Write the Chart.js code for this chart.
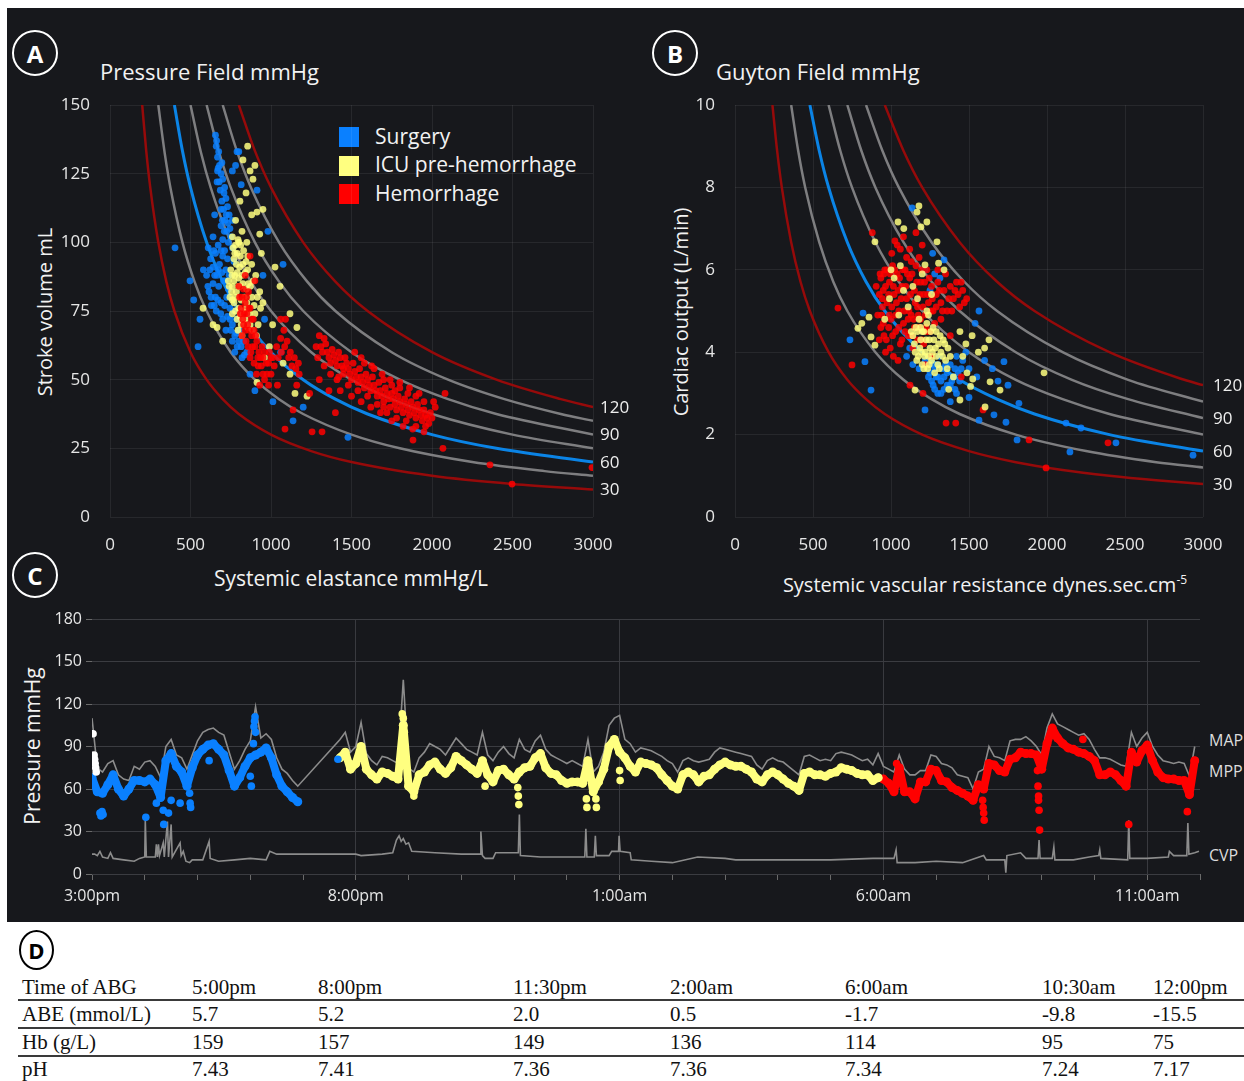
<!DOCTYPE html>
<html>
<head>
<meta charset="utf-8">
<script src="https://cdn.jsdelivr.net/npm/chart.js@4.4.1/dist/chart.umd.min.js"></script>
<style>
  body { margin: 0; width: 1244px; height: 1081px; background: #ffffff; position: relative; overflow: hidden; font-family: "Open Sans", sans-serif; }
  .abs { position: absolute; }
  #dark { left: 7px; top: 8px; width: 1237px; height: 914px; background: #17181c; }
  canvas { position: absolute; }
  .txt { position: absolute; color: #f2f2f2; white-space: nowrap; }
  .ctr { transform: translate(-50%, -50%); }
  .rot { transform: translate(-50%, -50%) rotate(-90deg); }
  .badge { position: absolute; border: 2px solid #ffffff; border-radius: 50%; color: #ffffff; font-weight: bold; font-size: 24px; display: flex; align-items: center; justify-content: center; box-sizing: border-box; }
  .swatch { position: absolute; width: 20px; height: 20px; }
  .cell { position: absolute; font-family: "Liberation Serif", "Times New Roman", serif; font-size: 21px; color: #111; transform: translateY(-50%); white-space: nowrap; }
  .rule { position: absolute; left: 18px; width: 1226px; height: 2px; background: #3a3a3a; }
</style>
</head>
<body>
<div id="dark" class="abs"></div>

<div class="badge" style="left:12px;top:30px;width:46px;height:46px;">A</div>
<div class="badge" style="left:652px;top:30px;width:46px;height:46px;">B</div>
<div class="badge" style="left:12px;top:552px;width:46px;height:46px;">C</div>
<div class="badge" style="left:19px;top:930px;width:35px;height:40px;border-color:#000;color:#000;font-size:22px;">D</div>

<div class="txt" style="left:100px;top:56px;font-size:22px;">Pressure Field mmHg</div>
<div class="txt" style="left:716px;top:56px;font-size:22px;">Guyton Field mmHg</div>

<div class="txt ctr" style="left:351px;top:578px;font-size:21px;">Systemic elastance mmHg/L</div>
<div class="txt rot" style="left:44px;top:312px;font-size:20px;">Stroke volume mL</div>
<div class="txt ctr" style="left:985px;top:584px;font-size:20px;">Systemic vascular resistance dynes.sec.cm<sup style="font-size:12px;">-5</sup></div>
<div class="txt rot" style="left:680px;top:312px;font-size:20px;">Cardiac output (L/min)</div>
<div class="txt rot" style="left:32px;top:746px;font-size:21px;">Pressure mmHg</div>

<div class="swatch" style="left:339px;top:127px;background:#0a80ff;"></div>
<div class="swatch" style="left:339px;top:156px;background:#ffff80;"></div>
<div class="swatch" style="left:339px;top:184px;background:#ff0000;"></div>
<div class="txt" style="left:375px;top:122px;font-size:21px;">Surgery</div>
<div class="txt" style="left:375px;top:150px;font-size:21px;">ICU pre-hemorrhage</div>
<div class="txt" style="left:375px;top:179px;font-size:21px;">Hemorrhage</div>

<div class="txt" style="left:1209px;top:729px;font-size:16px;color:#dddddd;">MAP</div>
<div class="txt" style="left:1209px;top:760px;font-size:16px;color:#dddddd;">MPP</div>
<div class="txt" style="left:1209px;top:844px;font-size:16px;color:#dddddd;">CVP</div>

<canvas id="chartA" width="640" height="480" style="left:0px;top:90px;"></canvas>
<canvas id="chartB" width="604" height="480" style="left:640px;top:90px;"></canvas>
<canvas id="chartC" width="1244" height="320" style="left:0px;top:600px;"></canvas>

<div id="table"></div>

<script>
// ---- Panel A: iso-pressure curves, [elastance, stroke volume]
const isoA30 = [[200,150],[225,133.3],[250,120],[300,100],[350,85.7],[400,75],[500,60],[600,50],[700,42.9],[800,37.5],[1000,30],[1250,24],[1500,20],[2000,15],[2500,12],[3000,10]];
const isoA45 = [[300,150],[340,132.4],[375,120],[450,100],[525,85.7],[600,75],[750,60],[900,50],[1050,42.9],[1200,37.5],[1500,30],[1800,25],[2250,20],[2700,16.7],[3000,15]];
const isoA60 = [[400,150],[450,133.3],[500,120],[600,100],[700,85.7],[800,75],[1000,60],[1200,50],[1400,42.9],[1600,37.5],[2000,30],[2400,25],[3000,20]];
const isoA75 = [[500,150],[565,132.7],[625,120],[750,100],[875,85.7],[1000,75],[1250,60],[1500,50],[1750,42.9],[2000,37.5],[2500,30],[3000,25]];
const isoA90 = [[600,150],[675,133.3],[750,120],[900,100],[1050,85.7],[1200,75],[1500,60],[1800,50],[2100,42.9],[2400,37.5],[3000,30]];
const isoA105 = [[700,150],[790,132.9],[875,120],[1050,100],[1225,85.7],[1400,75],[1750,60],[2100,50],[2450,42.9],[2800,37.5],[3000,35]];
const isoA120 = [[800,150],[900,133.3],[1000,120],[1200,100],[1400,85.7],[1600,75],[2000,60],[2400,50],[2800,42.9],[3000,40]];

// ---- Panel A scatter, [elastance, stroke volume]
const surgeryA = [[655,139],[660,135],[668,131],[672,127],[680,128],[690,125],[665,122],[700,123],[685,119],[712,120],[695,115],[720,116],[705,112],[730,113],[715,108],[740,110],[690,106],[725,104],[745,105],[760,108],[700,101],[735,100],[650,110],[640,102],[780,128],[800,133],[815,121],[760,126],
  [610,98],[625,94],[640,91],[655,96],[665,88],[680,92],[700,95],[720,90],[640,85],[655,80],[675,84],[690,78],[705,86],[615,82],[600,88],[630,77],[660,75],[700,72],[725,80],[745,76],[760,70],[775,66],[790,62],[805,68],[830,64],[850,60],[820,58],[785,72],[740,88],[770,93],[760,98],
  [662,137],[675,133],[668,126],[695,129],[678,122],[708,118],[690,112],[722,110],[698,108],[732,107],[710,104],[750,102],[645,97],[672,99],[690,97],[712,97],[730,94],[620,90],[650,88],[672,90],[695,89],[715,86],[735,83],[608,84],[628,80],[648,77],[670,79],[688,74],[712,77],[730,73],[750,68],[768,75],[785,67],[800,64],[815,62],[835,59],[760,64],[775,60],[745,72],[720,68],
  [404,98],[497,86],[547,62],[559,72],[580,90],[520,79],[1012,42],[1137,35],[1478,29],[1075,92],[789,133],[913,119],[981,104],[950,88],[870,52],[900,46],[1060,60],[960,72],[1200,40]];
const icuA = [[760,102],[780,99],[800,100],[790,96],[770,94],[810,95],[825,92],[750,90],[775,88],[800,87],[840,89],[760,84],[785,82],[810,84],[835,80],[860,85],[745,80],[770,78],[800,76],[825,75],[850,78],[880,80],[790,72],[815,70],[840,72],[870,70],[900,74],[920,70],[760,74],[735,86],[855,95],[880,92],[905,88],[930,82],[950,78],[820,104],[850,100],
  [765,98],[795,101],[812,99],[775,96],[830,97],[785,92],[805,91],[845,93],[758,88],[790,89],[820,88],[855,90],[770,86],[798,84],[825,85],[848,83],[872,84],[755,82],[780,80],[815,79],[845,76],[865,74],[895,77],[780,75],[808,73],[830,71],[855,69],[885,68],[910,66],[795,68],[820,66],[760,79],[740,84],[890,86],[915,80],[935,76],
  [826,130],[870,126],[888,123],[807,115],[913,111],[845,118],[880,110],[930,103],[780,108],[855,135],[900,128],[950,112],[940,96],[1025,91],[1056,84],[1118,74],[1161,69],[578,76],[665,69],[913,49],[1075,56],[1149,45],[1224,44],[1118,52],[990,62],[1010,70],[960,58],[700,64],[640,70]];
const hemorrhageA = [[800,84],[820,80],[840,78],[860,82],[810,74],[830,70],[850,74],[870,76],[890,72],[820,66],[845,64],[865,68],[885,62],[905,66],[925,60],[950,58],[870,58],[895,56],[920,55],[945,62],[970,56],[990,60],[1010,58],[1035,62],[1060,65],[1080,68],[1100,64],[1120,60],[1145,58],[1170,56],[1060,72],[1090,72],[1000,52],[960,50],[930,48],[1040,48],[840,88],[870,95],[900,86],
  [805,80],[815,76],[828,83],[835,74],[848,80],[855,70],[862,76],[878,72],[880,66],[895,68],[900,62],[912,64],[918,58],[935,58],[940,55],[960,60],[975,52],[985,56],[1000,58],[1020,55],[1045,58],[1065,60],[1085,62],[1110,58],[1130,55],[1155,54],[1175,52],[825,72],[840,68],[858,62],[875,60],[910,52],[950,52],[985,48],
  [1280,62],[1300,66],[1320,60],[1340,63],[1360,58],[1380,61],[1400,57],[1420,60],[1440,55],[1460,58],[1330,55],[1370,52],[1410,50],[1450,52],[1480,54],[1500,50],[1520,53],[1540,49],[1560,51],[1580,47],[1600,50],[1620,46],[1640,48],[1660,44],[1680,46],[1700,42],[1720,45],[1740,40],[1760,43],[1780,39],[1800,42],[1820,38],[1840,41],[1860,37],[1880,40],[1900,36],[1920,39],[1940,35],[1960,37],[1980,34],[2000,36],[1700,50],[1750,48],[1800,47],[1850,45],[1620,40],[1680,38],[1750,35],[1820,33],[1880,32],[1950,31],[1560,42],[1500,44],[1430,46],[1360,46],[1300,50],[1580,56],[1520,60],[1640,54],[1900,44],[1950,42],[2020,40],
  [1290,58],[1310,62],[1330,65],[1350,60],[1370,56],[1390,59],[1410,55],[1430,58],[1450,54],[1470,56],[1490,52],[1510,56],[1530,51],[1550,54],[1570,49],[1590,52],[1610,48],[1630,51],[1650,46],[1670,49],[1690,44],[1710,47],[1730,43],[1750,45],[1770,41],[1790,44],[1810,40],[1830,43],[1850,39],[1870,42],[1890,38],[1910,41],[1930,37],[1950,39],[1970,36],[1990,38],[1720,38],[1780,36],[1840,35],[1900,33],[1960,33],[1660,41],[1600,44],[1540,46],[1480,48],[1420,51],[1740,50],[1800,49],[1860,47],[1920,45],[2010,42],[1690,52],[1625,55],[1560,58],[1700,40],[1770,46],
  [2081,45],[2360,19],[2497,12],[1087,32],[1255,31],[1317,31],[1137,39],[1882,28],[2068,25],[2994,18],[1240,45],[1400,38],[1160,48]];

// ---- Panel B: iso-pressure curves, [SVR, cardiac output]
const isoB30 = [[240,10],[270,8.89],[300,8],[360,6.67],[420,5.71],[480,5],[600,4],[720,3.33],[840,2.86],[960,2.5],[1200,2],[1500,1.6],[1800,1.33],[2100,1.14],[2400,1],[2700,0.89],[3000,0.8]];
const isoB45 = [[360,10],[405,8.89],[450,8],[540,6.67],[630,5.71],[720,5],[900,4],[1080,3.33],[1260,2.86],[1440,2.5],[1800,2],[2250,1.6],[2700,1.33],[3000,1.2]];
const isoB60 = [[480,10],[540,8.89],[600,8],[720,6.67],[840,5.71],[960,5],[1200,4],[1440,3.33],[1680,2.86],[1920,2.5],[2400,2],[3000,1.6]];
const isoB75 = [[600,10],[675,8.89],[750,8],[900,6.67],[1050,5.71],[1200,5],[1500,4],[1800,3.33],[2100,2.86],[2400,2.5],[3000,2]];
const isoB90 = [[720,10],[810,8.89],[900,8],[1080,6.67],[1260,5.71],[1440,5],[1800,4],[2160,3.33],[2520,2.86],[3000,2.4]];
const isoB105 = [[840,10],[945,8.89],[1050,8],[1260,6.67],[1470,5.71],[1680,5],[2100,4],[2520,3.33],[3000,2.8]];
const isoB120 = [[960,10],[1080,8.89],[1200,8],[1440,6.67],[1680,5.71],[1920,5],[2400,4],[2880,3.33],[3000,3.2]];

// ---- Panel B scatter, [SVR, cardiac output]
const surgeryB = [[1250,3.5],[1270,3.2],[1290,3.4],[1300,3.0],[1320,3.3],[1340,3.1],[1360,3.5],[1380,3.2],[1400,3.4],[1420,3.0],[1440,3.3],[1280,3.6],[1350,3.7],[1310,3.9],
  [1260,3.3],[1280,3.1],[1300,3.4],[1320,3.0],[1340,3.4],[1360,3.2],[1390,3.3],[1410,3.1],[1430,3.5],[1265,3.7],[1330,3.6],[1450,3.6],[1240,3.4],[1300,3.7],[1410,3.6],
  [1100,3.9],[1140,3.7],[1180,3.6],[1220,3.8],[1460,3.8],[1500,3.6],[1480,4.0],[1120,4.1],[1420,3.9],[1380,3.7],
  [1135,7.5],[1218,6.0],[1267,6.4],[1340,6.24],[1314,5.8],[1250,5.5],[1280,5.9],
  [1564,5.0],[1539,4.7],[1686,3.3],[1724,3.77],[1820,2.76],[2122,2.28],[2218,2.16],[2147,1.58],[2442,1.8],[2936,1.5],[1808,1.87],[1737,2.3],[1564,2.35],[1660,2.48],[1218,2.6],[872,3.08],[737,4.3],[833,3.77],[821,4.95],[1600,3.8],[1650,3.6],[1550,3.4],[1500,2.9],[1380,2.8],[1750,3.2]];
const icuB = [[1130,4.5],[1150,4.2],[1160,4.6],[1175,3.9],[1190,4.3],[1200,3.7],[1210,4.5],[1220,4.0],[1235,3.6],[1245,4.3],[1260,3.8],[1270,4.6],[1285,4.1],[1300,3.7],[1315,4.4],[1330,3.9],[1345,4.2],[1360,3.6],[1180,4.8],[1240,4.9],[1165,3.8],[1195,4.0],[1250,4.1],[1280,3.5],
  [1140,4.4],[1155,4.0],[1170,4.5],[1185,4.1],[1200,4.5],[1215,3.9],[1225,4.3],[1240,3.9],[1255,4.5],[1265,4.0],[1275,4.3],[1290,3.9],[1305,4.2],[1320,4.0],[1335,4.3],[1350,3.8],[1365,4.1],[1380,3.9],[1210,3.6],[1245,3.7],[1230,4.7],[1190,4.6],[1290,4.5],[1310,3.6],
  [960,4.8],[990,5.3],[1020,5.8],[1050,4.9],[1080,5.5],[1110,5.1],[1140,5.6],[1170,5.3],[1200,5.9],[1230,5.0],[1260,5.4],[1000,6.0],[1060,6.1],
  [1045,7.16],[1082,7.0],[1179,7.55],[1167,7.4],[1230,7.16],[1192,7.04],[1295,6.68],[897,6.68],[1340,6.0],[1305,6.16],[1218,6.12],
  [788,4.58],[813,4.7],[859,4.85],[872,4.37],[897,4.17],
  [1442,4.5],[1480,4.2],[1520,4.4],[1560,4.0],[1600,4.1],[1460,3.9],[1487,3.5],[1524,3.35],[1635,3.28],[1699,3.08],[1510,3.17],[1442,2.84],[1603,2.67],[1154,3.08],[1981,3.5],[1628,4.3],[1400,3.4],[1370,3.1]];
const hemorrhageB = [[930,5.9],[950,5.5],[960,6.0],[975,5.2],[990,5.7],[1000,4.8],[1010,6.1],[1020,5.4],[1030,4.5],[1040,5.9],[1050,5.0],[1060,4.2],[1070,5.6],[1080,4.7],[1090,6.0],[1100,5.3],[1110,4.4],[1120,5.8],[1130,4.9],[1140,4.1],[1150,5.5],[1160,6.1],[1170,5.1],[1180,4.6],[1190,5.7],[1200,4.3],[1210,5.4],[1220,4.9],[1230,6.0],[1240,5.2],[1250,4.5],[1260,5.6],[1270,5.0],[1280,4.7],[1290,5.4],[1300,5.7],[1320,5.2],[1340,5.5],[1360,5.0],[1380,5.6],[1400,5.3],[1420,5.7],[1440,5.1],[1460,5.5],[1485,5.3],
  [925,5.4],[935,5.8],[945,5.3],[955,5.9],[965,5.6],[975,6.0],[985,5.4],[995,5.9],[1005,5.1],[1015,5.6],[1025,6.0],[1035,5.2],[1045,5.5],[1055,5.8],[1065,5.3],[1075,6.0],[1085,5.0],[1095,5.6],[1105,5.9],[1115,5.0],[1125,5.4],[1135,5.9],[1145,4.8],[1155,5.2],[1165,5.7],[1175,4.9],[1185,5.4],[1195,6.0],[1205,5.1],[1215,5.7],[1225,4.6],[1235,5.4],[1245,5.8],[1255,5.0],[1265,5.3],
  [950,4.7],[970,4.3],[990,4.9],[1010,4.4],[1030,4.9],[1050,4.6],[1070,4.3],[1090,4.5],[1110,4.8],[1130,4.4],[1150,4.6],[1170,4.3],[1190,4.8],[1210,4.2],[1230,4.5],[1290,5.1],[1310,5.5],[1330,5.0],[1370,5.3],[1390,5.0],[1410,5.5],[1430,5.4],[1450,5.7],[1470,5.2],
  [940,4.9],[955,4.4],[965,4.0],[985,4.6],[995,4.1],[1015,3.9],[1045,3.8],[945,5.1],[935,4.6],[1005,6.4],[1040,6.6],[1080,6.8],[1120,6.5],[1160,6.9],[1200,6.6],[1100,6.3],[1060,6.5],[1025,6.7],[905,5.6],[915,4.9],[925,4.3],[1180,6.3],[1130,6.2],[1350,5.9],[1300,6.0],[1320,4.8],[1260,3.9],[1220,3.7],[1380,4.4],
  [660,5.07],[750,3.69],[1353,2.28],[1415,2.28],[1885,1.87],[1994,1.19],[2391,1.8],[1590,2.6],[1205,3.0],[1122,3.2],[1450,3.4],[880,6.9]];

// ---- Panel C: hours since 3:00pm, values in mmHg, sampled every 0.1 h
const hourLabels = ["3:00pm", "8:00pm", "1:00am", "6:00am", "11:00am"];
const surgeryStart = 0, icuStart = 4.7, hemorrhageStart = 15.0, sampleStep = 0.1;
const mppSurgery = [68,58,57,63,70,60,55,60,66,66,65,67,63,54,80,85,76,72,62,75,84,88,91,92,88,84,73,62,68,76,82,84,86,89,82,70,62,58,54,51];
const mapSurgery = [110,75,72,78,80,70,67,66,76,74,79,80,76,68,90,95,84,82,74,84,94,100,102,103,100,98,86,74,80,88,94,118,96,99,95,82,74,71,66,62];
const mppIcu = [82,86,74,78,90,74,70,67,72,71, 69,67,105,62,58,70,72,77,79,74, 71,75,83,80,77,74,71,80,70,65, 73,74,70,67,72,75,76,82,85,75,
  71,70,66,64,65,65,64,80,58,65, 74,90,95,86,82,76,72, 79,78,77,75,70,66,62,60,70,72, 70,65,69,70,74,77,79,77,76,76,
  74,72,67,65,70,72,70,67,64,62, 59,71,72,70,70,69,71,72,75,74, 73,71,70,70,66,68];
const mapIcu = [95,100,86,90,107,85,80,77,83,82, 80,78,137,75,72,82,86,92,90,88, 84,90,96,92,88,86,84,100,84,80, 86,90,85,82,95,88,86,94,98,88,
  84,82,80,78,80,78,76,95,72,76, 86,105,110,112,95,92,86, 89,88,87,85,83,80,78,72,80,82, 80,79,80,81,86,89,88,87,86,85,
  84,83,77,74,80,82,80,79,76,73, 70,83,84,82,80,81,80,85,86,85, 84,82,80,81,77,85];
const mppHemorrhage = [67,64,58,75,58,58,53,65,65,74, 73,66,65,61,59,57,55,52,63,60, 78,77,73,72,81,82,86,85,85,84,
  74,92,103,96,92,89,88,86,85,83, 80,70,70,72,70,66,62,86,79,87, 91,80,72,68,67,67,66,66,56,80];
const mapHemorrhage = [76,74,72,84,74,70,70,73,73,84, 83,78,77,75,70,69,68,60,72,74, 90,83,82,80,94,95,95,97,94,90,
  84,103,113,106,104,102,100,98,99,95, 88,82,82,81,79,77,76,100,90,96, 100,90,84,80,79,78,79,78,69,90];
const cvpTimes = [0,0.05,0.1,0.15,0.2,0.3,0.35,0.4,0.6,0.8,0.9,1.0,1.01,1.03,1.2,1.22,1.24,1.26,1.28,1.35,1.37,1.43,1.45,1.5,1.52,1.67,1.69,1.73,1.78,1.85,1.9,2.1,2.22,2.24,2.4,2.7,3.0,3.3,3.37,3.5,3.8,4.5,5.0,5.1,5.5,5.7,5.77,5.82,5.86,5.9,5.95,6.0,6.06,6.5,7.0,7.36,7.37,7.4,7.45,7.6,7.65,8.0,8.08,8.1,8.12,8.5,9.0,9.34,9.36,9.38,9.52,9.54,9.56,9.8,9.85,9.98,9.99,10.01,10.2,10.22,10.6,11.0,11.48,12.0,12.2,13.0,14.0,14.8,15.2,15.24,15.26,15.6,16.0,16.5,16.9,16.95,17.3,17.32,17.34,17.6,17.7,17.93,17.95,17.97,18.2,18.23,18.25,18.6,18.9,19.08,19.1,19.12,19.63,19.65,19.67,20.0,20.4,20.42,20.5,20.75,20.77,20.79,20.9,20.98];
const cvpValues = [14,14,13,16,12,11,15,11,10,9,11,12,38,12,12,21,12,21,13,22,12,37,12,35,12,22,13,16,9,8,10,10,23,11,9,10,11,10,16,14,14,14,14,13,14,15,24,27,23,25,21,22,16,15,14,14,30,13,11,11,15,15,15,42,13,12,12,12,32,12,12,27,13,13,16,16,27,16,15,10,9,8,12,11,10,10,10,11,11,17,8,8,9,8,13,10,10,1,13,15,11,11,24,11,11,19,10,10,12,13,17,11,10,38,11,11,12,16,13,13,36,14,15,16];
const surgeryExtraT = [0.15,0.17,0.19,0.21,1.02,1.22,1.35,1.36,1.45,1.5,1.67,1.85,1.86,1.87,2.22,3.0,3.02,3.06,3.07,3.08,3.09,3.1,4.66];
const surgeryExtraV = [43,41,44,42,40,50,45,35,43,52,50,57,50,47,80,69,62,92,104,108,111,100,81];
const startT = [0.02,0.04,0.05,0.06,0.07,0.08];
const startV = [99,84,81,78,75,72];
const icuExtraT = [5.88,5.9,5.92,6.1,7.45,8.07,8.08,8.09,9.37,9.38,9.55,9.56,10.0,10.01];
const icuExtraV = [113,110,100,55,62,61,55,49,53,47,53,47,73,66];
const hemorrhageExtraT = [15.25,16.88,16.89,16.9,16.91,17.92,17.93,17.94,17.94,17.95,17.96,18.78,19.65,20.76];
const hemorrhageExtraV = [78,52,47,43,38,73,62,55,52,45,31,95,35,44];

// ---- Panel D table
const rowNames = ["Time of ABG", "ABE (mmol/L)", "Hb (g/L)", "pH"];
const abgTimes = ["5:00pm", "8:00pm", "11:30pm", "2:00am", "6:00am", "10:30am", "12:00pm"];
const abeValues = ["5.7", "5.2", "2.0", "0.5", "-1.7", "-9.8", "-15.5"];
const hbValues = ["159", "157", "149", "136", "114", "95", "75"];
const phValues = ["7.43", "7.41", "7.36", "7.36", "7.34", "7.24", "7.17"];

const BLUE = "rgba(10,128,255,0.85)";
const YELLOW = "rgba(255,255,128,0.85)";
const RED = "rgba(255,0,0,0.85)";
const CURVE_RED = "#960a0a";
const CURVE_GRAY = "#7e7e80";
const CURVE_BLUE = "#0b84e6";

Chart.defaults.font.family = "'Open Sans', sans-serif";

function pairs(arr) {
  return arr.map((p) => ({ x: p[0], y: p[1] }));
}

function series(start, values) {
  return values.map((v, i) => ({ x: +(start + i * sampleStep).toFixed(2), y: v }));
}

function zip(ts, vs) {
  return ts.map((t, i) => ({ x: t, y: vs[i] }));
}

// draws the pressure number at the right end of a curve
const endLabels = {
  id: "endLabels",
  afterDatasetsDraw(chart, args, opts) {
    const ctx = chart.ctx;
    ctx.save();
    ctx.font = "17px 'Open Sans', sans-serif";
    ctx.fillStyle = "#eeeeee";
    ctx.textBaseline = "middle";
    chart.data.datasets.forEach((ds, i) => {
      if (!ds.endLabel) return;
      const pts = chart.getDatasetMeta(i).data;
      const last = pts[pts.length - 1];
      ctx.fillText(ds.endLabel, last.x + opts.offset, last.y + 1);
    });
    ctx.restore();
  },
};

function curve(points, color, label, width) {
  return {
    type: "line",
    data: pairs(points),
    borderColor: color,
    borderWidth: width || 2.5,
    pointRadius: 0,
    cubicInterpolationMode: "monotone",
    endLabel: label,
  };
}

function cloud(points, color) {
  return {
    type: "scatter",
    data: pairs(points),
    backgroundColor: color,
    borderWidth: 0,
    pointRadius: 3.4,
  };
}

// tick marks are kept but invisible, so they only push the labels away
// (ticks.padding would also be added above the chart area)
function fieldOptions(xMax, yMax, yStep, yWidth, rightPad, labelOffset) {
  return {
    responsive: false,
    animation: false,
    devicePixelRatio: 1,
    layout: { padding: { top: 15, right: rightPad } },
    plugins: {
      legend: { display: false },
      tooltip: { enabled: false },
      endLabels: { offset: labelOffset },
    },
    scales: {
      x: {
        type: "linear",
        min: 0,
        max: xMax,
        ticks: { stepSize: 500, color: "#e6e6e6", font: { size: 17 }, padding: 2, callback: (v) => String(v) },
        grid: { color: "rgba(255,255,255,0.07)", tickColor: "transparent", tickLength: 16 },
        border: { display: false },
        afterFit(s) { s.height = 53; },
      },
      y: {
        min: 0,
        max: yMax,
        ticks: { stepSize: yStep, color: "#e6e6e6", font: { size: 17 }, padding: 2 },
        grid: { color: "rgba(255,255,255,0.07)", tickColor: "transparent", tickLength: 18 },
        border: { display: false },
        afterFit(s) { s.width = yWidth; },
      },
    },
  };
}

new Chart(document.getElementById("chartA"), {
  type: "scatter",
  data: {
    datasets: [
      cloud(hemorrhageA, RED),
      cloud(icuA, YELLOW),
      cloud(surgeryA, BLUE),
      curve(isoA120, CURVE_RED, "120"),
      curve(isoA105, CURVE_GRAY),
      curve(isoA90, CURVE_GRAY, "90"),
      curve(isoA75, CURVE_GRAY),
      curve(isoA60, CURVE_BLUE, "60", 3),
      curve(isoA45, CURVE_GRAY),
      curve(isoA30, CURVE_RED, "30"),
    ],
  },
  options: fieldOptions(3000, 150, 25, 110, 47, 7),
  plugins: [endLabels],
});

new Chart(document.getElementById("chartB"), {
  type: "scatter",
  data: {
    datasets: [
      cloud(icuB, YELLOW),
      cloud(hemorrhageB, RED),
      cloud(surgeryB, BLUE),
      curve(isoB120, CURVE_RED, "120"),
      curve(isoB105, CURVE_GRAY),
      curve(isoB90, CURVE_GRAY, "90"),
      curve(isoB75, CURVE_GRAY),
      curve(isoB60, CURVE_BLUE, "60", 3),
      curve(isoB45, CURVE_GRAY),
      curve(isoB30, CURVE_RED, "30"),
    ],
  },
  options: fieldOptions(3000, 10, 2, 95, 41, 10),
  plugins: [endLabels],
});

function mppLine(data, color) {
  return {
    data: data,
    borderColor: color,
    backgroundColor: color,
    borderWidth: 8,
    pointRadius: 4.5,
    pointBorderWidth: 0,
    borderJoinStyle: "round",
    borderCapStyle: "round",
  };
}

function dots(data, color) {
  return { data: data, showLine: false, backgroundColor: color, pointRadius: 3.8, pointBorderWidth: 0 };
}

const mapData = series(surgeryStart, mapSurgery)
  .concat(series(icuStart, mapIcu))
  .concat(series(hemorrhageStart, mapHemorrhage));

new Chart(document.getElementById("chartC"), {
  type: "line",
  data: {
    datasets: [
      dots(zip(startT, startV), "#ffffff"),
      dots(zip(surgeryExtraT, surgeryExtraV), "#0a80ff"),
      dots(zip(icuExtraT, icuExtraV), "#ffff80"),
      dots(zip(hemorrhageExtraT, hemorrhageExtraV), "#ff0000"),
      mppLine(series(surgeryStart, mppSurgery), "#0a80ff"),
      mppLine(series(icuStart, mppIcu), "#ffff80"),
      mppLine(series(hemorrhageStart, mppHemorrhage), "#ff0000"),
      { data: mapData, borderColor: "#8c8c8c", borderWidth: 1.6, pointRadius: 0 },
      { data: zip(cvpTimes, cvpValues), borderColor: "#8c8c8c", borderWidth: 1.6, pointRadius: 0 },
    ],
  },
  options: {
    responsive: false,
    animation: false,
    devicePixelRatio: 1,
    layout: { padding: { top: 19, right: 44 } },
    plugins: { legend: { display: false }, tooltip: { enabled: false } },
    scales: {
      x: {
        type: "linear",
        min: 0,
        max: 21,
        ticks: {
          stepSize: 1,
          autoSkip: false,
          maxRotation: 0,
          color: "#e6e6e6",
          font: { size: 16 },
          padding: 7,
          callback: (v) => (v % 5 === 0 ? hourLabels[v / 5] : ""),
        },
        grid: {
          color: (c) => (c.tick && c.tick.value % 5 === 0 && c.tick.value > 0 ? "#393a3f" : "transparent"),
          tickColor: "#6a6a6a",
          tickLength: 6,
        },
        border: { display: false },
        afterFit(s) { s.height = 46; },
      },
      y: {
        min: 0,
        max: 180,
        ticks: { stepSize: 30, color: "#e6e6e6", font: { size: 16 }, padding: 4 },
        grid: { color: "#3b3c41", tickColor: "#6a6a6a", tickLength: 6 },
        border: { display: false },
        afterFit(s) { s.width = 92; },
      },
    },
  },
});

// table of arterial blood gases
const colX = [22, 192, 318, 513, 670, 845, 1042, 1153];
const rowY = [987, 1014, 1042, 1069];
const tableRows = [abgTimes, abeValues, hbValues, phValues];
const table = document.getElementById("table");
tableRows.forEach((vals, r) => {
  [rowNames[r]].concat(vals).forEach((text, c) => {
    const cell = document.createElement("div");
    cell.className = "cell";
    cell.style.left = colX[c] + "px";
    cell.style.top = rowY[r] + "px";
    cell.textContent = text;
    table.appendChild(cell);
  });
});
[999, 1027, 1055].forEach((y) => {
  const rule = document.createElement("div");
  rule.className = "rule";
  rule.style.top = y + "px";
  table.appendChild(rule);
});
</script>
</body>
</html>
